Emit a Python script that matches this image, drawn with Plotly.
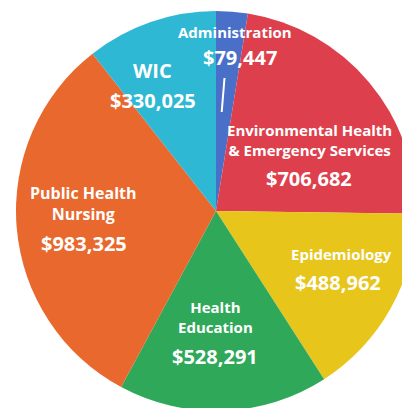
import plotly.graph_objects as go

categories = ["Administration", "Environmental Health & Emergency Services",
              "Epidemiology", "Health Education", "Public Health Nursing", "WIC"]
label_lines = ["Administration", "Environmental Health<br>& Emergency Services",
               "Epidemiology", "Health<br>Education", "Public Health<br>Nursing", "WIC"]
values = [79447, 706682, 488962, 528291, 983325, 330025]
colors = ["#4a6fc8", "#de3f4c", "#e8c51a", "#2fa85a", "#e8682e", "#2fb8d3"]

W, H = 432, 422
cx, cy, R = 216, 211, 200

fig = go.Figure(go.Pie(
    labels=categories, values=values, sort=False, direction="clockwise",
    rotation=0, marker=dict(colors=colors, line=dict(width=0)),
    textinfo="none", hoverinfo="label+value", showlegend=False,
    domain=dict(x=[(cx - R) / W, (cx + R) / W], y=[(H - cy - R) / H, (H - cy + R) / H]),
))

# label positions (pixel centres) for name and value
name_pos = [(235, 32), (309, 140), (341, 254), (215, 317), (83, 203), (152, 70)]
value_pos = [(240, 57), (309, 178), (338, 282), (215, 356), (84, 243), (153, 100)]
name_size = [15, 15, 15, 15, 16, 20]

FONT = "Open Sans"
for i, cat in enumerate(categories):
    nx, ny = name_pos[i]
    vx, vy = value_pos[i]
    fig.add_annotation(x=nx / W, y=1 - ny / H, xref="paper", yref="paper",
                       text=label_lines[i], showarrow=False,
                       font=dict(family=FONT, size=name_size[i], color="white", weight="bold"),
                       xanchor="center", yanchor="middle")
    fig.add_annotation(x=vx / W, y=1 - vy / H, xref="paper", yref="paper",
                       text="${:,}".format(values[i]), showarrow=False,
                       font=dict(family=FONT, size=20, color="white", weight="bold"),
                       xanchor="center", yanchor="middle")

# leader line for Administration
fig.add_shape(type="line", xref="paper", yref="paper",
              x0=224.5 / W, y0=1 - 78 / H, x1=221.7 / W, y1=1 - 112 / H,
              line=dict(color="white", width=2))

fig.update_layout(width=W, height=H, margin=dict(l=0, r=0, t=0, b=0),
                  paper_bgcolor="white", plot_bgcolor="white")

fig.write_html("out.html", config={"displayModeBar": False},
               post_script="document.body.style.margin='0';document.body.style.overflow='hidden';document.documentElement.style.overflow='hidden';")
